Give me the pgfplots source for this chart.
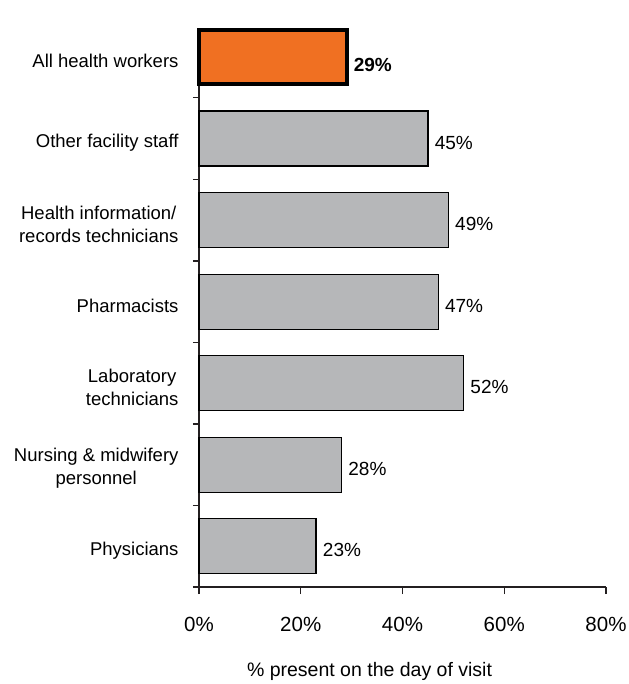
\documentclass[border=0pt]{standalone}
\usepackage{pgfplots}
\pgfplotsset{compat=1.18}
\usepackage{fontspec}
\setmainfont{Liberation Sans}
\definecolor{barorange}{HTML}{F07022}
\definecolor{bargray}{HTML}{B6B7B9}
\definecolor{axisblack}{HTML}{231F20}
\begin{document}
\begin{tikzpicture}
\begin{axis}[
    xbar,
    scale only axis,
    width=407pt,
    height=543pt,
    xmin=0, xmax=80,
    ymin=-0.5, ymax=6.16,
    clip=false,
    axis x line*=bottom,
    axis y line*=left,
    axis line style={line width=1.3pt, color=axisblack},
    tick style={line width=1.3pt, color=axisblack},
    tick align=outside,
    major tick length=7pt,
    minor tick length=6pt,
    /pgf/number format/assume math mode=true,
    xtick={0,20,40,60,80},
    xticklabel={\pgfmathprintnumber{\tick}\%},
    xticklabel style={font=\fontsize{20.5}{24}\selectfont, yshift=-20pt},
    ytick={0,1,2,3,4,5,6},
    yticklabels={Physicians, Nursing \& midwifery\\personnel, Laboratory\\technicians,
        Pharmacists, Health information/\\records technicians,
        Other facility staff, All health workers},
    yticklabel style={align=center, font=\fontsize{18.5}{23}\selectfont, xshift=-10pt, yshift=-4pt},
    major y tick style={draw=none},
    minor ytick={-0.5,0.5,1.5,2.5,3.5,4.5,5.5},
    xlabel={\% present on the day of visit},
    xlabel style={font=\fontsize{19.5}{23}\selectfont, at={(axis description cs:0.419,0)}, anchor=north, yshift=-72pt},
    point meta=x,
    nodes near coords={\pgfmathprintnumber{\pgfplotspointmeta}\%},
    nodes near coords style={font=\fontsize{19}{23}\selectfont, anchor=west, xshift=3pt, yshift=-4pt},
]
% grey bars: Physicians ... Other facility staff
\addplot[fill=bargray, draw=black, line width=1.2pt, bar width=0.675, bar shift=0]
    coordinates {(23,0) (28,1) (52,2) (47,3) (49,4) (45,5)};
% highlighted total
\addplot[fill=barorange, draw=black, line width=4pt, bar width=0.66, bar shift=0,
    nodes near coords style={font=\fontsize{19}{23}\selectfont\bfseries, anchor=west, xshift=-1pt, yshift=-4pt}]
    coordinates {(29,6)};
\end{axis}
\pgfresetboundingbox
\path ([shift={(-199pt,-97pt)}]current axis.south west) rectangle ([shift={(22pt,44pt)}]current axis.north east);
\end{tikzpicture}
\end{document}
